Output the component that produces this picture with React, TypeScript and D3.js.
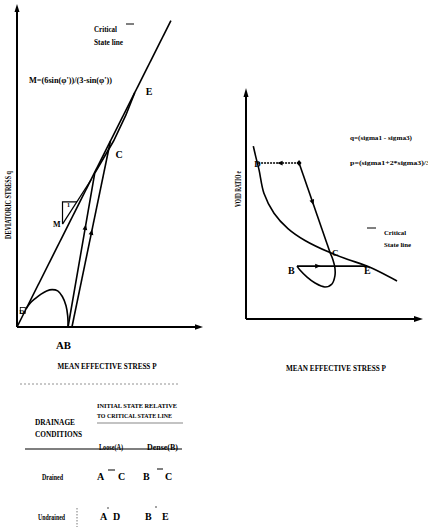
import React from "react";
import * as d3 from "d3";

type Pt = [number, number];

// ---------------- Left panel: q – p plane (arbitrary units) ----------------
const leftPDomain: Pt = [0, 10];
const leftQDomain: Pt = [0, 17.4];
const leftCSL: Pt[] = [[0, 0], [8.32, 16.56]];
const leftSlopeLine: Pt[] = [[2.46, 5.56], [4.0, 7.95]];
const leftSlopeLegs: Pt[] = [[3.24, 6.76], [2.46, 6.76], [2.46, 5.56]];
const leftUndrainedLoose: Pt[] = [
  [2.76, 0], [2.74, 0.6], [2.65, 1.15], [2.45, 1.65], [2.2, 1.95],
  [1.9, 2.02], [1.6, 1.95], [1.3, 1.78], [1.0, 1.55], [0.72, 1.3], [0.5, 1.0],
];
const leftUndrainedDense: Pt[] = [
  [2.76, 0], [4.2, 8.3], [5.22, 10.05], [5.89, 11.46], [6.36, 12.65],
];
const leftDrained: Pt[] = [[2.97, 0], [5.05, 10.05]];
const leftPointC: Pt = [5.05, 10.05];
const leftPointE: Pt = [6.36, 12.65];
const leftPointD: Pt = [0.5, 1.0];
const leftPointAB: Pt = [2.76, 0];

// ---------------- Right panel: e – p plane (arbitrary units) ----------------
const rightPDomain: Pt = [0, 10];
const rightEDomain: Pt = [0, 10];
const rightCurve: Pt[] = [
  [0.42, 7.55], [0.56, 7.09], [0.75, 6.51], [1.03, 5.49], [1.61, 4.62],
  [2.41, 3.95], [3.39, 3.43], [4.83, 2.9], [5.86, 2.6], [6.95, 2.31], [8.68, 1.66],
];
const rightA: Pt = [3.05, 6.81];
const rightD: Pt = [0.65, 6.81];
const rightC: Pt = [4.83, 2.9];
const rightB: Pt = [2.93, 2.31];
const rightE: Pt = [6.95, 2.31];
const rightDenseDrained: Pt[] = [
  [2.93, 2.31], [3.1, 2.14], [3.51, 1.83], [3.97, 1.57], [4.54, 1.4],
  [4.94, 1.53], [5.11, 1.88], [5.11, 2.23], [5.0, 2.58], [4.83, 2.9],
];

// ---------------- Texts ----------------
const leftYLabel = "DEVIATORIC STRESS q";
const xLabel = "MEAN EFFECTIVE STRESS P";
const rightYLabel = "VOID RATIO e";
const cslLegend = ["Critical", "State line"];
const mFormula = "M=(6sin(\u03C6'))/(3-sin(\u03C6'))";
const qFormula = "q=(sigma1 - sigma3)";
const pFormula = "p=(sigma1+2*sigma3)/3";
const tableHeaderLeft = ["DRAINAGE", "CONDITIONS"];
const tableHeaderRight = ["INITIAL STATE RELATIVE", "TO CRITICAL STATE LINE"];
const tableColumns = ["Loose(A)", "Dense(B)"];
const tableRows = ["Drained", "Undrained"];
const tableCells = [
  [["A", "C"], ["B", "C"]],
  [["A", "D"], ["B", "E"]],
];

const FONT = "'Liberation Serif', 'DejaVu Serif', serif";

function arrowHead(a: Pt, b: Pt, t: number, size = 5.5, w = 2.4) {
  const x = a[0] + (b[0] - a[0]) * t;
  const y = a[1] + (b[1] - a[1]) * t;
  const ang = Math.atan2(b[1] - a[1], b[0] - a[0]);
  const c = Math.cos(ang), s = Math.sin(ang);
  const tip: Pt = [x + c * size / 2, y + s * size / 2];
  const bx = x - c * size / 2, by = y - s * size / 2;
  const p1: Pt = [bx - s * w, by + c * w];
  const p2: Pt = [bx + s * w, by - c * w];
  return [tip, p1, p2].map((p) => p.join(",")).join(" ");
}

function T(props: {
  x: number; y: number; size?: number; len?: number; anchor?: string;
  rotate?: number; children: React.ReactNode; weight?: string;
}) {
  const { x, y, size = 8, len, anchor = "start", rotate, children, weight = "bold" } = props;
  return (
    <text
      x={x}
      y={y}
      fontSize={size}
      fontFamily={FONT}
      fontWeight={weight}
      textAnchor={anchor}
      textLength={len}
      lengthAdjust={len ? "spacingAndGlyphs" : undefined}
      transform={rotate !== undefined ? `rotate(${rotate},${x},${y})` : undefined}
      fill="#000"
    >
      {children}
    </text>
  );
}

export default function App() {
  // Left scales
  const xL = d3.scaleLinear().domain(leftPDomain).range([17, 202]);
  const yL = d3.scaleLinear().domain(leftQDomain).range([327, 5]);
  const lineL = d3.line<Pt>().x((d) => xL(d[0])).y((d) => yL(d[1]));
  const curveL = d3.line<Pt>().x((d) => xL(d[0])).y((d) => yL(d[1])).curve(d3.curveCatmullRom.alpha(0.5));
  const pxL = (d: Pt): Pt => [xL(d[0]), yL(d[1])];

  // Right scales
  const xR = d3.scaleLinear().domain(rightPDomain).range([246, 420]);
  const yR = d3.scaleLinear().domain(rightEDomain).range([319, 90]);
  const lineR = d3.line<Pt>().x((d) => xR(d[0])).y((d) => yR(d[1]));
  const curveR = d3.line<Pt>().x((d) => xR(d[0])).y((d) => yR(d[1])).curve(d3.curveCatmullRom.alpha(0.5));
  const pxR = (d: Pt): Pt => [xR(d[0]), yR(d[1])];

  const lo = xL.range()[0], l0y = yL.range()[0];
  const ro = xR.range()[0], r0y = yR.range()[0];

  const stroke = { stroke: "#000", fill: "none", strokeWidth: 1.6 } as const;

  const C = pxL(leftPointC), E = pxL(leftPointE), D = pxL(leftPointD), AB = pxL(leftPointAB);
  const rA = pxR(rightA), rD = pxR(rightD), rC = pxR(rightC), rB = pxR(rightB), rE = pxR(rightE);

  return (
    <svg
      width={428}
      height={532}
      style={{ position: "absolute", left: 0, top: 0, background: "#fff" }}
    >
      <rect width={428} height={532} fill="#fff" />

      {/* ===== Left panel ===== */}
      <line x1={lo} y1={l0y} x2={lo} y2={9} stroke="#000" strokeWidth={2} />
      <polygon points={`${lo},4 ${lo - 2.5},12 ${lo + 2.5},12`} fill="#000" />
      <line x1={lo} y1={l0y} x2={197} y2={l0y} stroke="#000" strokeWidth={2} />
      <polygon points={`203,${l0y} 195,${l0y - 2.8} 195,${l0y + 2.8}`} fill="#000" />

      <path d={lineL(leftCSL) || ""} {...stroke} />
      <path d={lineL(leftSlopeLine) || ""} {...stroke} strokeWidth={1.2} />
      <path d={lineL(leftSlopeLegs) || ""} {...stroke} strokeWidth={1.2} />
      <path d={curveL(leftUndrainedLoose) || ""} {...stroke} />
      <path d={lineL(leftUndrainedDense) || ""} {...stroke} />
      <path d={lineL(leftDrained) || ""} {...stroke} />
      <polygon points={arrowHead(pxL(leftUndrainedDense[0]), pxL(leftUndrainedDense[1]), 0.65)} fill="#000" />
      <polygon points={arrowHead(pxL(leftDrained[0]), pxL(leftDrained[1]), 0.51)} fill="#000" />
      <rect x={D[0] - 6} y={D[1] - 1} width={5} height={6} fill="none" stroke="#000" strokeWidth={0.8} />

      <T x={94} y={32} size={8} len={23}>{cslLegend[0]}</T>
      <T x={94} y={45} size={8} len={29}>{cslLegend[1]}</T>
      <line x1={126} y1={24} x2={134} y2={24} stroke="#000" strokeWidth={1} />
      <T x={29} y={83} size={8} len={83}>{mFormula}</T>
      <T x={E[0] + 11} y={E[1] + 2} size={10}>E</T>
      <T x={C[0] + 5} y={C[1] + 17} size={10}>C</T>
      <T x={53} y={227} size={8}>M</T>
      <T x={67} y={207} size={6}>1</T>
      <T x={D[0] - 7} y={D[1] + 6} size={7}>D</T>
      <T x={AB[0] - 12} y={AB[1] + 22} size={10} len={15}>AB</T>
      <T x={107} y={369} size={8} len={99} anchor="middle">{xLabel}</T>
      <T x={11} y={205} size={8} len={68} anchor="middle" rotate={-90}>{leftYLabel}</T>

      {/* ===== Right panel ===== */}
      <line x1={ro} y1={r0y} x2={ro} y2={95} stroke="#000" strokeWidth={2} />
      <polygon points={`${ro},88 ${ro - 2.5},97 ${ro + 2.5},97`} fill="#000" />
      <line x1={ro} y1={r0y} x2={416} y2={r0y} stroke="#000" strokeWidth={2} />
      <polygon points={`423,${r0y} 414,${r0y - 3} 414,${r0y + 3}`} fill="#000" />

      <path d={curveR(rightCurve) || ""} {...stroke} />
      <path d={lineR([rightA, rightD]) || ""} {...stroke} strokeDasharray="2 1" />
      <path d={lineR([rightA, rightC]) || ""} {...stroke} />
      <path d={lineR([rightB, rightE]) || ""} {...stroke} />
      <path d={curveR(rightDenseDrained) || ""} {...stroke} />
      <polygon points={arrowHead(rA, rD, 0.46)} fill="#000" />
      <polygon points={arrowHead(rA, rC, 0.44)} fill="#000" />
      <polygon points={arrowHead(rB, rE, 0.3)} fill="#000" />
      <polygon points={`${rA[0]},${rA[1] - 3} ${rA[0] + 2.5},${rA[1]} ${rA[0]},${rA[1] + 3} ${rA[0] - 2.5},${rA[1]}`} fill="#000" />

      <T x={rD[0] - 3} y={rD[1] + 4} size={9}>D</T>
      <T x={rC[0] + 2} y={rC[1] + 3} size={9}>C</T>
      <T x={rB[0] - 9} y={rB[1] + 8} size={10}>B</T>
      <T x={rE[0] - 3} y={rE[1] + 8} size={10}>E</T>

      <T x={350} y={140} size={7} len={62}>{qFormula}</T>
      <T x={350} y={165} size={7} len={80}>{pFormula}</T>
      <line x1={367} y1={228} x2={376} y2={228} stroke="#000" strokeWidth={1} />
      <T x={384} y={235} size={7} len={22}>{cslLegend[0]}</T>
      <T x={384} y={247} size={7} len={27}>{cslLegend[1]}</T>
      <T x={336} y={371} size={8} len={100} anchor="middle">{xLabel}</T>
      <T x={241} y={189} size={8} len={36} anchor="middle" rotate={-90}>{rightYLabel}</T>

      {/* ===== Table ===== */}
      <line x1={20} y1={384} x2={180} y2={384} stroke="#777" strokeWidth={0.8} strokeDasharray="2 2" />
      <T x={97} y={408} size={7} len={80}>{tableHeaderRight[0]}</T>
      <T x={97} y={418} size={7} len={75}>{tableHeaderRight[1]}</T>
      <line x1={97} y1={423} x2={183} y2={423} stroke="#555" strokeWidth={0.7} />
      <T x={35} y={425} size={9} len={40}>{tableHeaderLeft[0]}</T>
      <T x={35} y={437} size={9} len={47}>{tableHeaderLeft[1]}</T>
      <line x1={25} y1={449} x2={182} y2={449} stroke="#000" strokeWidth={1.2} />
      <T x={99} y={450} size={8} len={24}>{tableColumns[0]}</T>
      <T x={147} y={450} size={8} len={31}>{tableColumns[1]}</T>

      <T x={42} y={480} size={8} len={21}>{tableRows[0]}</T>
      <T x={97} y={480} size={10}>{tableCells[0][0][0]}</T>
      <line x1={108} y1={470} x2={115} y2={470} stroke="#000" strokeWidth={1} />
      <T x={118} y={480} size={10}>{tableCells[0][0][1]}</T>
      <T x={143} y={480} size={10}>{tableCells[0][1][0]}</T>
      <line x1={157} y1={469} x2={163} y2={469} stroke="#000" strokeWidth={1} />
      <T x={165} y={480} size={10}>{tableCells[0][1][1]}</T>

      <T x={38} y={520} size={8} len={27}>{tableRows[1]}</T>
      <line x1={77} y1={508} x2={77} y2={527} stroke="#555" strokeWidth={0.8} strokeDasharray="1.5 1.5" />
      <T x={100} y={520} size={10}>{tableCells[1][0][0]}</T>
      <T x={113} y={520} size={10}>{tableCells[1][0][1]}</T>
      <T x={145} y={520} size={10}>{tableCells[1][1][0]}</T>
      <T x={162} y={520} size={10}>{tableCells[1][1][1]}</T>
      <circle cx={108} cy={508} r={0.7} fill="#000" />
      <circle cx={156} cy={507} r={0.7} fill="#000" />
    </svg>
  );
}
